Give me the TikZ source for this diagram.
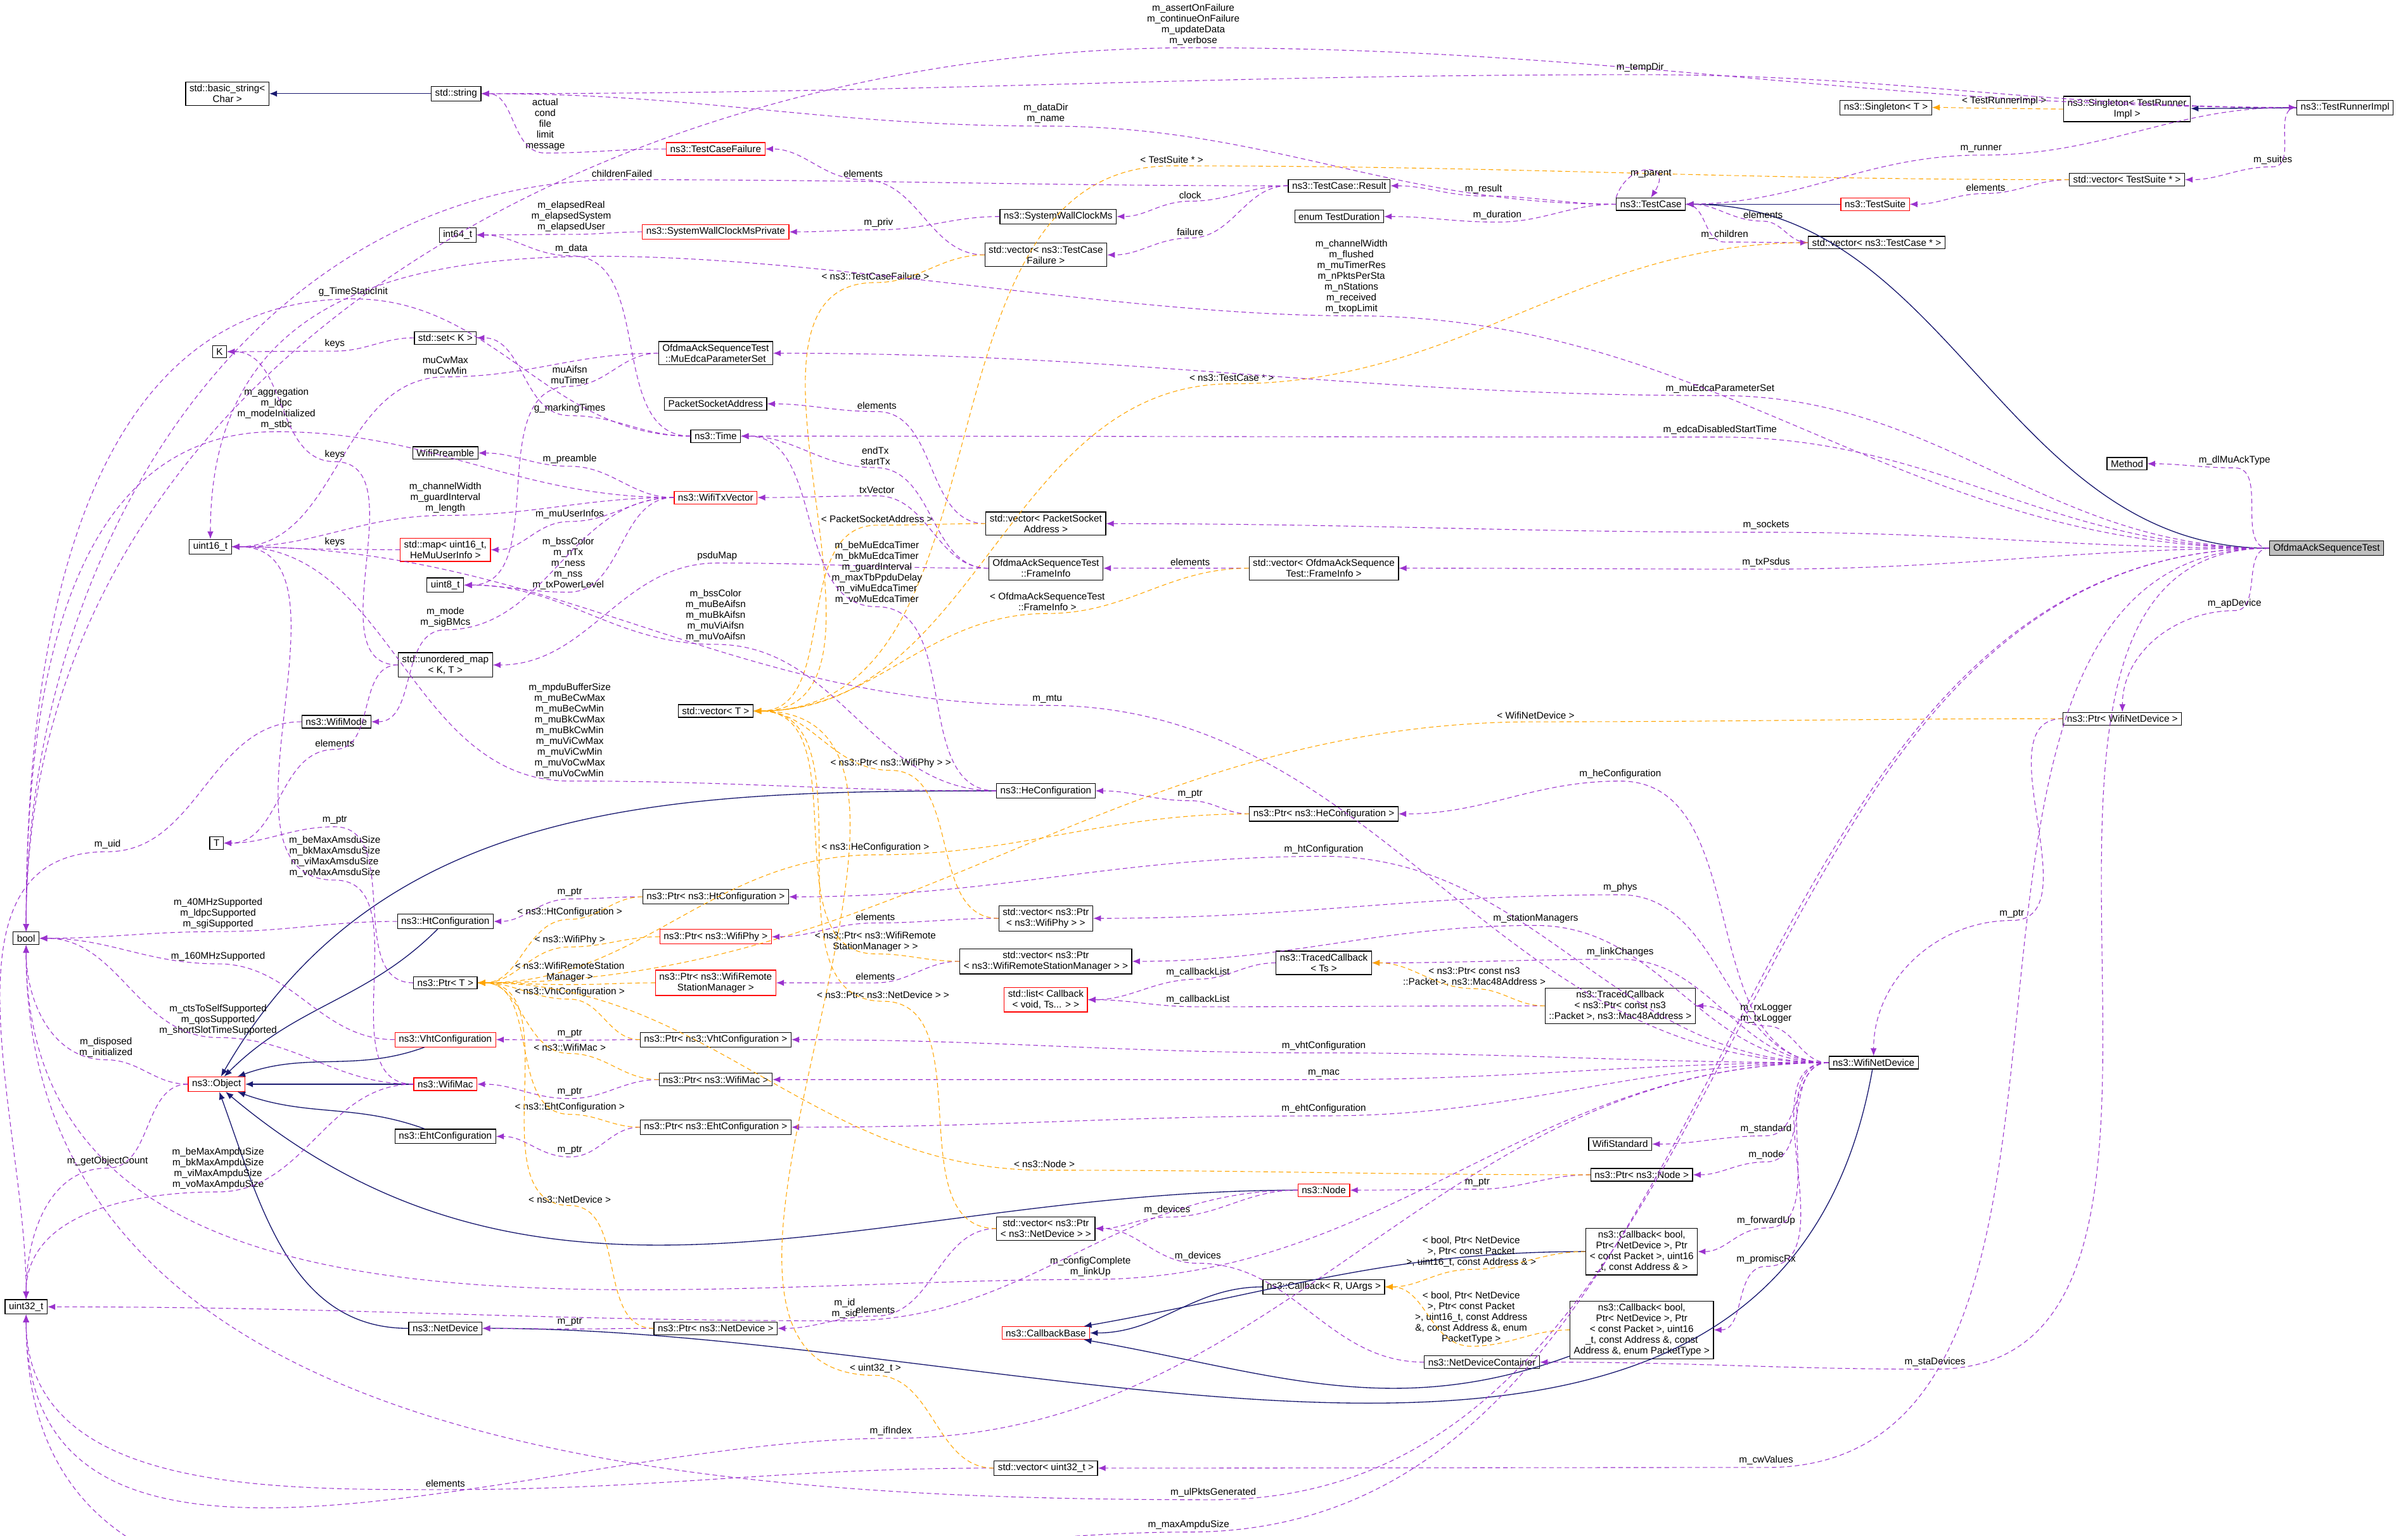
\documentclass[tikz,border=0pt]{standalone}
\usepackage{fontspec}
\setmainfont{Liberation Sans}
\usetikzlibrary{arrows.meta,calc}
\definecolor{dep}{HTML}{9A32CD}
\definecolor{tpl}{HTML}{FFA500}
\definecolor{inhc}{HTML}{191970}
\newcommand\rel[5][dep]{%
 \node[lbl] (L) at (#4) {#5};
 \draw[#1] (#2) to[out=180,in=0] ($(L.south)+(0,1)$) to[out=180,in=0] (#3);}
\newcommand\relr[5][dep]{%
 \node[lbl] (L) at (#4) {#5};
 \draw[#1] (#2) to[out=0,in=180] ($(L.south)+(0,1)$) to[out=0,in=180] (#3);}
% arrival from a given angle (90 = from above on screen, 270 = from below)
\newcommand\relin[6][dep]{%
 \node[lbl] (L) at (#4) {#5};
 \draw[#1] (#2) to[out=180,in=0] ($(L.south)+(0,1)$) to[out=180,in=#6] (#3);}
\begin{document}
\begin{tikzpicture}[x=1pt,y=-1pt,
 box/.style={draw=black,fill=white,font=\fontsize{6.3}{7}\selectfont,inner xsep=2.5pt,inner ysep=1.8pt,align=center,line width=0.5pt},
 rbox/.style={box,draw=red},
 lbl/.style={font=\fontsize{6.3}{7}\selectfont,align=center,inner sep=0.5pt},
 dep/.style={draw=dep,dashed,dash pattern=on 3pt off 2pt,line width=0.45pt,-{Latex[length=5pt,width=4pt]}},
 tpl/.style={draw=tpl,dashed,dash pattern=on 3pt off 2pt,line width=0.45pt,-{Latex[length=5pt,width=4pt]}},
 inh/.style={draw=inhc,line width=0.55pt,-{Latex[length=5pt,width=4pt]}}]
\useasboundingbox (0,0) rectangle (1568,1000);
% ---------- nodes ----------
\node[box,fill=gray!50] (oast) at (1515,357) {OfdmaAckSequenceTest};
\node[box] (method) at (1385,302) {Method};
\node[box] (ptrwnd) at (1382,468) {ns3::Ptr< WifiNetDevice >};
\node[box] (tri) at (1527,70) {ns3::TestRunnerImpl};
\node[box] (singtri) at (1385,71) {ns3::Singleton< TestRunner\\Impl >};
\node[box] (singT) at (1228,70) {ns3::Singleton< T >};
\node[box] (vecsuite) at (1385,117) {std::vector< TestSuite * >};
\node[rbox] (suite) at (1221,133) {ns3::TestSuite};
\node[box] (tcase) at (1075,133) {ns3::TestCase};
\node[box] (vectc) at (1222,158) {std::vector< ns3::TestCase * >};
\node[box] (result) at (872,121) {ns3::TestCase::Result};
\node[box] (tdur) at (872,141) {enum TestDuration};
\node[box] (swc) at (689,141) {ns3::SystemWallClockMs};
\node[box] (vectcf) at (681,166) {std::vector< ns3::TestCase\\Failure >};
\node[rbox] (tcf) at (466,97) {ns3::TestCaseFailure};
\node[rbox] (swcp) at (466,151) {ns3::SystemWallClockMsPrivate};
\node[box] (i64) at (298,153) {int64\_t};
\node[box] (str) at (297,61) {std::string};
\node[box] (bstr) at (148,61) {std::basic\_string<\\Char >};
\node[box] (K) at (143,229) {K};
\node[box] (setK) at (290,220) {std::set< K >};
\node[box] (mues) at (466,230) {OfdmaAckSequenceTest\\::MuEdcaParameterSet};
\node[box] (psa) at (466,263) {PacketSocketAddress};
\node[box] (time) at (466,284) {ns3::Time};
\node[box] (pre) at (290,295) {WifiPreamble};
\node[rbox] (txv) at (466,324) {ns3::WifiTxVector};
\node[box] (vecpsa) at (681,341) {std::vector< PacketSocket\\Address >};
\node[box] (finfo) at (681,370) {OfdmaAckSequenceTest\\::FrameInfo};
\node[box] (vecfi) at (862,370) {std::vector< OfdmaAckSequence\\Test::FrameInfo >};
\node[box] (u16) at (137,356) {uint16\_t};
\node[rbox] (mapmu) at (290,358) {std::map< uint16\_t,\\HeMuUserInfo >};
\node[box] (u8) at (290,381) {uint8\_t};
\node[box] (umap) at (290,433) {std::unordered\_map\\< K, T >};
\node[box] (vecT) at (466,463) {std::vector< T >};
\node[box] (wmode) at (219,470) {ns3::WifiMode};
\node[box] (T) at (141,549) {T};
\node[box] (bool) at (17,611) {bool};
\node[box] (hec) at (681,515) {ns3::HeConfiguration};
\node[box] (ptrhe) at (862,530) {ns3::Ptr< ns3::HeConfiguration >};
\node[box] (htc) at (290,600) {ns3::HtConfiguration};
\node[box] (ptrht) at (466,584) {ns3::Ptr< ns3::HtConfiguration >};
\node[box] (ptrT) at (290,640) {ns3::Ptr< T >};
\node[rbox] (ptrphy) at (466,610) {ns3::Ptr< ns3::WifiPhy >};
\node[rbox] (ptrrsm) at (466,640) {ns3::Ptr< ns3::WifiRemote\\StationManager >};
\node[box] (vecphy) at (681,598) {std::vector< ns3::Ptr\\< ns3::WifiPhy > >};
\node[box] (vecrsm) at (681,626) {std::vector< ns3::Ptr\\< ns3::WifiRemoteStationManager > >};
\node[box] (tcbTs) at (862,627) {ns3::TracedCallback\\< Ts >};
\node[rbox] (lcb) at (681,651) {std::list< Callback\\< void, Ts... > >};
\node[box] (tcbP) at (1055,655) {ns3::TracedCallback\\< ns3::Ptr< const ns3\\::Packet >, ns3::Mac48Address >};
\node[rbox] (vhtc) at (290,677) {ns3::VhtConfiguration};
\node[box] (ptrvht) at (466,677) {ns3::Ptr< ns3::VhtConfiguration >};
\node[rbox] (wmac) at (290,706) {ns3::WifiMac};
\node[box] (ptrmac) at (466,703) {ns3::Ptr< ns3::WifiMac >};
\node[rbox] (obj) at (141,706) {ns3::Object};
\node[box] (ehtc) at (290,740) {ns3::EhtConfiguration};
\node[box] (ptreht) at (466,734) {ns3::Ptr< ns3::EhtConfiguration >};
\node[box] (wnd) at (1220,692) {ns3::WifiNetDevice};
\node[box] (wstd) at (1055,745) {WifiStandard};
\node[box] (ptrnode) at (1069,765) {ns3::Ptr< ns3::Node >};
\node[rbox] (node) at (862,775) {ns3::Node};
\node[box] (vecnd) at (681,800) {std::vector< ns3::Ptr\\< ns3::NetDevice > >};
\node[box] (cbA) at (1069,815) {ns3::Callback< bool,\\Ptr< NetDevice >, Ptr\\< const Packet >, uint16\\\_t, const Address \& >};
\node[box] (cbR) at (862,838) {ns3::Callback< R, UArgs >};
\node[box] (cbP) at (1069,866) {ns3::Callback< bool,\\Ptr< NetDevice >, Ptr\\< const Packet >, uint16\\\_t, const Address \&, const\\Address \&, enum PacketType >};
\node[box] (ndc) at (965,887) {ns3::NetDeviceContainer};
\node[rbox] (cbb) at (681,868) {ns3::CallbackBase};
\node[box] (nd) at (290,865) {ns3::NetDevice};
\node[box] (ptrnd) at (466,865) {ns3::Ptr< ns3::NetDevice >};
\node[box] (vecu32) at (681,956) {std::vector< uint32\_t >};
\node[box] (u32) at (17,851) {uint32\_t};
% ---------- inheritance ----------
\draw[inh] (tri) -- (singtri);
\draw[inh] (suite) -- (tcase);
\draw[inh] (oast) to[out=180,in=0] (tcase);
\draw[inh] (str) -- (bstr);
\draw[inh] (htc) to[out=225,in=45] (obj);
\draw[inh] (vhtc) to[out=200,in=20] (obj);
\draw[inh] (wmac) -- (obj);
\draw[inh] (ehtc) to[out=160,in=340] (obj);
\draw[inh] (hec) to[out=180,in=60] (obj);
\draw[inh] (nd) to[out=180,in=290] (obj);
\draw[inh] (node) to[out=180,in=320] (obj);
\draw[inh] (wnd) to[out=260,in=0] (nd);
\draw[inh] (cbR) to[out=180,in=0] (cbb);
\draw[inh] (cbA) to[out=180,in=10] (cbb);
\draw[inh] (cbP) to[out=200,in=350] (cbb);
% ---------- relations ----------
\relin{tri}{bool.north}{777,16}{m\_assertOnFailure\\m\_continueOnFailure\\m\_updateData\\m\_verbose}{90}
\rel{tri}{str}{1068,44}{m\_tempDir}
\rel{tcase}{str}{681,74}{m\_dataDir\\m\_name}
\rel[tpl]{singtri}{singT}{1305,66}{< TestRunnerImpl >}
\relr{tcase}{tri}{1290,97}{m\_runner}
\rel{tri}{vecsuite}{1480,104}{m\_suites}
\rel{vecsuite}{suite}{1293,122}{elements}
\rel[tpl]{vecsuite}{vecT}{763,104}{< TestSuite * >}
\rel{tcase}{result}{966,123}{m\_result}
\rel{tcase}{tdur}{975,140}{m\_duration}
\draw[dep] (tcase.north west) .. controls (1060,105) and (1090,105) .. (tcase.north);
\node[lbl] (Lp) at (1075,113) {m\_parent};
\relr{tcase}{vectc}{1123,153}{m\_children}
\rel{vectc}{tcase}{1148,140}{elements}
\rel[tpl]{vectc}{vecT}{802,246}{< ns3::TestCase * >}
\rel{result}{swc}{775,127}{clock}
\rel{result}{vectcf}{775,151}{failure}
\relin{result}{bool.north}{405,113}{childrenFailed}{90}
\rel{vectcf}{tcf}{562,113}{elements}
\rel[tpl]{vectcf}{vecT}{570,180}{< ns3::TestCaseFailure >}
\rel{tcf}{str}{355,81}{actual\\cond\\file\\limit\\message}
\rel{swc}{swcp}{572,145}{m\_priv}
\rel{swcp}{i64}{372,141}{m\_elapsedReal\\m\_elapsedSystem\\m\_elapsedUser}
\rel{time}{i64}{372,162}{m\_data}
\relin{time}{bool.north}{230,190}{g\_TimeStaticInit}{90}
\rel{time}{setK}{371,266}{g\_markingTimes}
\rel{setK}{K}{218,224}{keys}
\rel{mues}{u16}{290,238}{muCwMax\\muCwMin}
\rel{mues}{u8}{371,244}{muAifsn\\muTimer}
\rel{oast}{mues}{1120,253}{m\_muEdcaParameterSet}
\rel{oast}{time}{1120,280}{m\_edcaDisabledStartTime}
\relin{oast}{u16.north}{880,180}{m\_channelWidth\\m\_flushed\\m\_muTimerRes\\m\_nPktsPerSta\\m\_nStations\\m\_received\\m\_txopLimit}{90}
\rel{oast}{method}{1455,300}{m\_dlMuAckType}
\rel{oast}{vecpsa}{1150,342}{m\_sockets}
\rel{oast}{vecfi}{1150,366}{m\_txPsdus}
\relin{oast}{ptrwnd.north}{1455,393}{m\_apDevice}{90}
\rel{oast}{ndc}{1260,887}{m\_staDevices}
\rel{oast}{vecu32}{1150,951}{m\_cwValues}
\relin{oast}{bool.south}{790,972}{m\_ulPktsGenerated}{270}
\relin{oast}{u32.south}{774,993}{m\_maxAmpduSize}{270}
\rel{vecpsa}{psa}{571,264}{elements}
\rel[tpl]{vecpsa}{vecT}{571,338}{< PacketSocketAddress >}
\rel{finfo}{time}{570,297}{endTx\\startTx}
\rel{finfo}{txv}{571,319}{txVector}
\rel{finfo}{umap}{467,362}{psduMap}
\rel{vecfi}{finfo}{775,366}{elements}
\rel[tpl]{vecfi}{vecT}{682,392}{< OfdmaAckSequenceTest\\::FrameInfo >}
\rel{txv}{pre}{371,299}{m\_preamble}
\rel{txv}{u16}{290,324}{m\_channelWidth\\m\_guardInterval\\m\_length}
\rel{txv}{mapmu}{371,335}{m\_muUserInfos}
\rel{txv}{u8}{370,367}{m\_bssColor\\m\_nTx\\m\_ness\\m\_nss\\m\_txPowerLevel}
\rel{txv}{wmode}{290,402}{m\_mode\\m\_sigBMcs}
\relin{txv}{bool.north}{180,266}{m\_aggregation\\m\_ldpc\\m\_modeInitialized\\m\_stbc}{90}
\rel{mapmu}{u16}{218,353}{keys}
\rel{umap}{K}{218,296}{keys}
\rel{umap}{T}{218,484}{elements}
\rel{hec}{u8}{466,401}{m\_bssColor\\m\_muBeAifsn\\m\_muBkAifsn\\m\_muViAifsn\\m\_muVoAifsn}
\rel{hec}{u16}{371,476}{m\_mpduBufferSize\\m\_muBeCwMax\\m\_muBeCwMin\\m\_muBkCwMax\\m\_muBkCwMin\\m\_muViCwMax\\m\_muViCwMin\\m\_muVoCwMax\\m\_muVoCwMin}
\rel{hec}{time}{571,373}{m\_beMuEdcaTimer\\m\_bkMuEdcaTimer\\m\_guardInterval\\m\_maxTbPpduDelay\\m\_viMuEdcaTimer\\m\_voMuEdcaTimer}
\rel{ptrhe}{hec}{775,517}{m\_ptr}
\rel[tpl]{ptrhe}{ptrT}{570,552}{< ns3::HeConfiguration >}
\rel{wnd}{ptrhe}{1055,504}{m\_heConfiguration}
\rel{wnd}{ptrht}{862,553}{m\_htConfiguration}
\rel{wnd}{vecphy}{1055,578}{m\_phys}
\rel{wnd}{vecrsm}{1000,598}{m\_stationManagers}
\rel{wnd}{tcbTs}{1055,620}{m\_linkChanges}
\rel{wnd}{tcbP}{1150,660}{m\_rxLogger\\m\_txLogger}
\rel{wnd}{ptrvht}{862,681}{m\_vhtConfiguration}
\rel{wnd}{ptrmac}{862,699}{m\_mac}
\rel{wnd}{ptreht}{862,722}{m\_ehtConfiguration}
\rel{wnd}{wstd}{1150,735}{m\_standard}
\rel{wnd}{ptrnode}{1150,752}{m\_node}
\rel{wnd}{cbA}{1150,795}{m\_forwardUp}
\rel{wnd}{cbP}{1150,820}{m\_promiscRx}
\relin{wnd}{u32.south}{580,932}{m\_ifIndex}{270}
\rel{wnd}{u16}{682,455}{m\_mtu}
\relin{wnd}{bool.south}{710,825}{m\_configComplete\\m\_linkUp}{270}
\relin{ptrwnd}{wnd.north}{1310,595}{m\_ptr}{90}
\rel[tpl]{ptrwnd}{ptrT}{1000,466}{< WifiNetDevice >}
\rel{ptrht}{htc}{371,581}{m\_ptr}
\rel[tpl]{ptrht}{ptrT}{371,594}{< ns3::HtConfiguration >}
\rel{vecphy}{ptrphy}{570,597}{elements}
\rel[tpl]{vecphy}{vecT}{580,497}{< ns3::Ptr< ns3::WifiPhy > >}
\rel[tpl]{ptrphy}{ptrT}{371,612}{< ns3::WifiPhy >}
\rel{vecrsm}{ptrrsm}{570,636}{elements}
\rel[tpl]{vecrsm}{vecT}{570,613}{< ns3::Ptr< ns3::WifiRemote\\StationManager > >}
\rel[tpl]{ptrrsm}{ptrT}{371,633}{< ns3::WifiRemoteStation\\Manager >}
\rel{tcbTs}{lcb}{780,633}{m\_callbackList}
\rel{tcbP}{lcb}{780,651}{m\_callbackList}
\rel[tpl]{tcbP}{tcbTs}{960,636}{< ns3::Ptr< const ns3\\::Packet >, ns3::Mac48Address >}
\rel{ptrvht}{vhtc}{371,673}{m\_ptr}
\rel[tpl]{ptrvht}{ptrT}{371,646}{< ns3::VhtConfiguration >}
\rel{ptrmac}{wmac}{371,711}{m\_ptr}
\rel[tpl]{ptrmac}{ptrT}{371,682}{< ns3::WifiMac >}
\rel{ptreht}{ehtc}{371,749}{m\_ptr}
\rel[tpl]{ptreht}{ptrT}{371,721}{< ns3::EhtConfiguration >}
\rel{htc}{bool}{142,595}{m\_40MHzSupported\\m\_ldpcSupported\\m\_sgiSupported}
\rel{vhtc}{bool}{142,623}{m\_160MHzSupported}
\rel{wmac}{bool}{142,664}{m\_ctsToSelfSupported\\m\_qosSupported\\m\_shortSlotTimeSupported}
\rel{wmac}{u16}{218,558}{m\_beMaxAmsduSize\\m\_bkMaxAmsduSize\\m\_viMaxAmsduSize\\m\_voMaxAmsduSize}
\relin{wmac}{u32.north}{142,761}{m\_beMaxAmpduSize\\m\_bkMaxAmpduSize\\m\_viMaxAmpduSize\\m\_voMaxAmpduSize}{90}
\relin{obj}{bool.south}{69,682}{m\_disposed\\m\_initialized}{270}
\relin{obj}{u32.north}{70,756}{m\_getObjectCount}{90}
\relin{wmode}{u32.north}{70,550}{m\_uid}{90}
\rel{ptrT}{T}{218,534}{m\_ptr}
\rel{ptrnode}{node}{962,770}{m\_ptr}
\rel[tpl]{ptrnode}{ptrT}{680,758}{< ns3::Node >}
\rel{node}{vecnd}{760,788}{m\_devices}
\rel{node}{u32}{550,852}{m\_id\\m\_sid}
\rel{vecnd}{ptrnd}{570,853}{elements}
\rel[tpl]{vecnd}{vecT}{575,648}{< ns3::Ptr< ns3::NetDevice > >}
\rel{ptrnd}{nd}{371,861}{m\_ptr}
\rel[tpl]{ptrnd}{ptrT}{371,781}{< ns3::NetDevice >}
\rel{ndc}{vecnd}{780,818}{m\_devices}
\rel[tpl]{cbA}{cbR}{958,815}{< bool, Ptr< NetDevice\\>, Ptr< const Packet\\>, uint16\_t, const Address \& >}
\rel[tpl]{cbP}{cbR}{958,858}{< bool, Ptr< NetDevice\\>, Ptr< const Packet\\>, uint16\_t, const Address\\\&, const Address \&, enum\\PacketType >}
\relin{vecu32}{u32.south}{290,966}{elements}{270}
\rel[tpl]{vecu32}{vecT}{570,891}{< uint32\_t >}
\end{tikzpicture}
\end{document}
